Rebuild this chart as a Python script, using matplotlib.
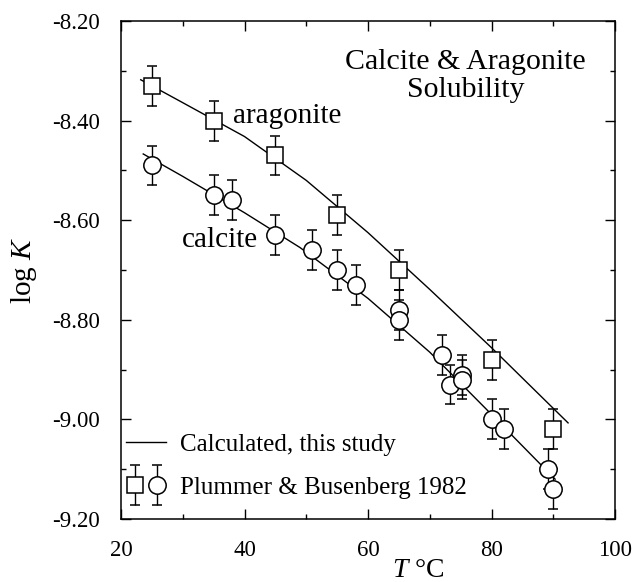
import numpy as np
import matplotlib
matplotlib.use('Agg')
import matplotlib.pyplot as plt
from matplotlib.container import ErrorbarContainer
from matplotlib.legend_handler import HandlerTuple, HandlerErrorbar

plt.rcParams['font.family'] = ['Liberation Serif', 'DejaVu Serif']
plt.rcParams['mathtext.fontset'] = 'custom'
plt.rcParams['mathtext.rm'] = 'Liberation Serif'
plt.rcParams['mathtext.it'] = 'Liberation Serif:italic'

# Plummer & Busenberg 1982 data
calcite_T = [25, 35, 38, 45, 51, 55, 58, 65, 65, 72, 73.2, 75.2, 75.2, 80, 82, 89.2, 90]
calcite_logK = [-8.49, -8.55, -8.56, -8.63, -8.66, -8.70, -8.73, -8.78, -8.80,
                -8.87, -8.93, -8.91, -8.92, -9.00, -9.02, -9.10, -9.14]
arag_T = [25, 35, 45, 55, 65, 80, 90]
arag_logK = [-8.33, -8.40, -8.47, -8.59, -8.70, -8.88, -9.02]
err = 0.04

# calculated curves (this study)
calc_arag_T = [23.2, 30, 40, 50, 60, 70, 80, 92.4]
calc_arag_logK = [-8.318, -8.364, -8.432, -8.52, -8.625, -8.739, -8.856, -9.007]
calc_calc_T = [23.6, 30, 40, 49, 60, 70, 79.2, 90.3]
calc_calc_logK = [-8.467, -8.512, -8.585, -8.655, -8.757, -8.865, -8.98, -9.12]

fig = plt.figure(figsize=(6.35, 5.82), dpi=100)
ax = fig.add_axes([121/635, 1 - 519/582, 494/635, 498/582])

line, = ax.plot(calc_arag_T, calc_arag_logK, color='black', lw=1.0)
ax.plot(calc_calc_T, calc_calc_logK, color='black', lw=1.0)

sq = ax.errorbar(arag_T, arag_logK, yerr=err, fmt='s', ms=12, mfc='white', mec='black',
                 mew=1.1, ecolor='black', elinewidth=1.0, capsize=3.5, capthick=1.0, zorder=3)
ci = ax.errorbar(calcite_T, calcite_logK, yerr=err, fmt='o', ms=12.5, mfc='white', mec='black',
                 mew=1.1, ecolor='black', elinewidth=1.0, capsize=3.5, capthick=1.0, zorder=3)

ax.set_xlim(20, 100)
ax.set_ylim(-9.2, -8.2)
ax.set_xticks([20, 40, 60, 80, 100])
ax.set_xticks([30, 50, 70, 90], minor=True)
ax.set_yticks(np.arange(-9.2, -8.19, 0.2))
ax.set_yticks(np.arange(-9.1, -8.2, 0.2), minor=True)
ax.set_yticklabels(['%.2f' % v for v in np.arange(-9.2, -8.19, 0.2)])
ax.tick_params(which='both', direction='in', top=True, right=True, labelsize=16.5, width=1.0)
ax.tick_params(which='major', length=7, pad=15)
ax.tick_params(which='minor', length=3.5)
for s in ax.spines.values():
    s.set_linewidth(1.1)

ax.text(0.698, 0.943, 'Calcite & Aragonite\nSolubility', transform=ax.transAxes,
        ha='center', va='top', fontsize=21.5, linespacing=1.1)
ax.text(38.1, -8.405, 'aragonite', fontsize=21, va='baseline')
ax.text(29.8, -8.653, 'calcite', fontsize=21, va='baseline')

fig.text(24/635, 0.535, 'log $K$', rotation=90, ha='center', va='center', fontsize=21)
fig.text(418/635, 0.008, '$T$ °C', ha='center', va='baseline', fontsize=20)

hm = {ErrorbarContainer: HandlerErrorbar(yerr_size=0.8), tuple: HandlerTuple(ndivide=None, pad=0.1)}
ax.legend([line, (sq, ci)], ['Calculated, this study', 'Plummer & Busenberg 1982'],
          handler_map=hm, loc='lower left', bbox_to_anchor=(0.01, 0.04), borderaxespad=0,
          borderpad=0, frameon=False, fontsize=18, handlelength=1.6, handletextpad=0.55,
          labelspacing=0.83)

fig.savefig('out.png', dpi=100)
